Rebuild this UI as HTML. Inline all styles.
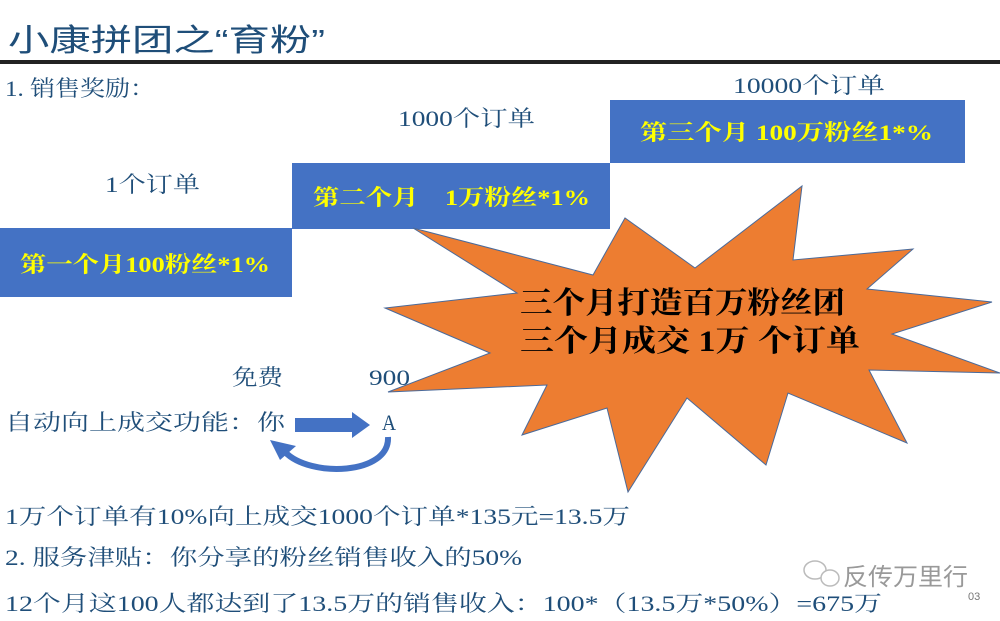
<!DOCTYPE html>
<html><head><meta charset="utf-8"><style>
html,body{margin:0;padding:0;background:#fff;}
svg{display:block;}
text{font-family:"Liberation Serif","Noto Serif CJK SC",serif;}
</style></head><body>
<svg width="1000" height="621" viewBox="0 0 1000 621" xmlns="http://www.w3.org/2000/svg">
<text x="8" y="51" font-size="31" fill="#1f4e79" textLength="317" lengthAdjust="spacingAndGlyphs" style="font-family:'Liberation Sans','Noto Sans CJK SC',sans-serif">小康拼团之“育粉”</text>
<rect x="0" y="60" width="1000" height="4" fill="#222"/>
<text x="5" y="96" font-size="22" fill="#1f4e79" textLength="150" lengthAdjust="spacingAndGlyphs">1. 销售奖励：</text>
<text x="733" y="93" font-size="22" fill="#1f4e79" textLength="152" lengthAdjust="spacingAndGlyphs">10000个订单</text>
<text x="398" y="126" font-size="22" fill="#1f4e79" textLength="137" lengthAdjust="spacingAndGlyphs">1000个订单</text>
<text x="105" y="192" font-size="22" fill="#1f4e79" textLength="95" lengthAdjust="spacingAndGlyphs">1个订单</text>
<rect x="0" y="228" width="292" height="69" fill="#4472c4"/>
<rect x="292" y="163" width="318" height="66" fill="#4472c4"/>
<rect x="610" y="100" width="355" height="63" fill="#4472c4"/>
<text x="20" y="272" font-size="22" font-weight="bold" fill="#ffff00" textLength="250" lengthAdjust="spacingAndGlyphs">第一个月100粉丝*1%</text>
<text x="313" y="205" font-size="22" font-weight="bold" fill="#ffff00" textLength="277" lengthAdjust="spacingAndGlyphs">第二个月　1万粉丝*1%</text>
<text x="640" y="140" font-size="22" font-weight="bold" fill="#ffff00" textLength="293" lengthAdjust="spacingAndGlyphs">第三个月 100万粉丝1*%</text>
<polygon points="413,228 593,275 625,218 695,268 802,186 793,260 913,249 867,289 992,302 892,334 1000,373 869,370 907,443 788,393 766,465 687,398 628,492 607,408 522,435 547,385 388,392 490,353 385,308 517,293" fill="#ed7d31" stroke="#4a6a9a" stroke-width="1"/>
<text x="520" y="313" font-size="30" font-weight="bold" fill="#000" textLength="325" lengthAdjust="spacingAndGlyphs">三个月打造百万粉丝团</text>
<text x="520" y="351" font-size="30" font-weight="bold" fill="#000" textLength="340" lengthAdjust="spacingAndGlyphs">三个月成交 1万 个订单</text>
<text x="232" y="385" font-size="22" fill="#1f4e79" textLength="51" lengthAdjust="spacingAndGlyphs">免费</text>
<text x="369" y="385" font-size="22" fill="#1f4e79" textLength="41" lengthAdjust="spacingAndGlyphs">900</text>
<text x="5" y="430" font-size="22" fill="#1f4e79" textLength="280" lengthAdjust="spacingAndGlyphs">自动向上成交功能：你</text>
<text x="382" y="430" font-size="22" fill="#1f4e79" textLength="14" lengthAdjust="spacingAndGlyphs">A</text>
<polygon points="295,418 352,418 352,412 370,425 352,438 352,432 295,432" fill="#4472c4"/>
<path d="M388,437 C390,475 310,478 285,452" fill="none" stroke="#4472c4" stroke-width="6"/>
<polygon points="270,440 296,446 280,460" fill="#4472c4"/>
<text x="5" y="524" font-size="22" fill="#1f4e79" textLength="625" lengthAdjust="spacingAndGlyphs">1万个订单有10%向上成交1000个订单*135元=13.5万</text>
<text x="5" y="565" font-size="22" fill="#1f4e79" textLength="517" lengthAdjust="spacingAndGlyphs">2. 服务津贴：你分享的粉丝销售收入的50%</text>
<text x="5" y="611" font-size="22" fill="#1f4e79" textLength="877" lengthAdjust="spacingAndGlyphs">12个月这100人都达到了13.5万的销售收入：100*（13.5万*50%）=675万</text>
<g fill="none" stroke="#bbb" stroke-width="1.5">
<ellipse cx="815" cy="570" rx="11" ry="9"/>
<ellipse cx="830" cy="578" rx="9" ry="8" fill="#fff"/>
</g>
<text x="843" y="585" font-size="24" fill="#999" style="font-family:'Liberation Sans','Noto Sans CJK SC',sans-serif" textLength="125" lengthAdjust="spacingAndGlyphs">反传万里行</text>
<text x="968" y="600" font-size="11" fill="#777" style="font-family:'Liberation Sans',sans-serif">03</text>
</svg>
</body></html>
